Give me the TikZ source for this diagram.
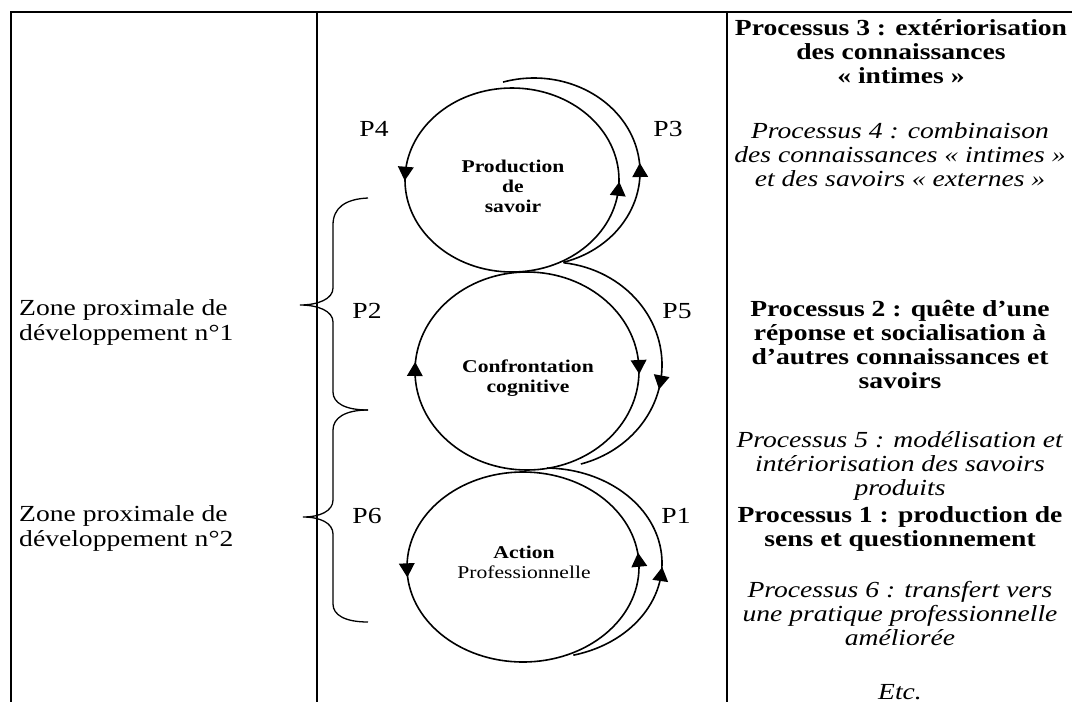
\documentclass[tikz,border=0pt]{standalone}
\usepackage{fontspec}
\setmainfont{Liberation Serif}[FakeStretch=1.2]
\usetikzlibrary{decorations.markings}

\tikzset{
  frame/.style={line width=2pt},
  loopline/.style={line width=1.6pt},
  bracket/.style={line width=1.3pt},
  tipat/.style={postaction={decorate,decoration={markings,
      mark=at position #1 with {\fill[line width=0.4pt] (7pt,0pt) -- (-7pt,8pt) -- (-7pt,-8pt) -- cycle;}}}},
  sidetext/.style={anchor=west,align=left,inner sep=0pt,
      font=\fontsize{23}{25}\selectfont},
  proc/.style={align=center,inner sep=0pt,font=\fontsize{23}{24}\selectfont},
  plabel/.style={inner sep=0pt,font=\fontsize{23}{25}\selectfont},
  hub/.style={align=center,inner sep=0pt,font=\fontsize{18}{20}\selectfont},
}

\begin{document}
\begin{tikzpicture}[x=1pt,y=-1pt]
\useasboundingbox (0,0) rectangle (1072,702);
\fill[white] (0,0) rectangle (1072,702);

% table frame
\coordinate (tl) at (11,12);
\coordinate (tr) at (1072,12);
\coordinate (m1t) at (317,12);
\coordinate (m2t) at (727,12);
\coordinate (bl) at (11,702);
\coordinate (m1b) at (317,702);
\coordinate (m2b) at (727,702);
\draw[frame] (bl) -- (tl) -- (tr);
\draw[frame] (m1t) -- (m1b);
\draw[frame] (m2t) -- (m2b);

% centres of the three cycles and of their outer loops
\coordinate (c1) at (512,180);
\coordinate (c2) at (527,371);
\coordinate (c3) at (523,567);
\coordinate (o1) at (534,172);
\coordinate (o2) at (550,365);
\coordinate (o3) at (545,563);

% cycle labels
\node[hub] (prod) at (513,186) {\textbf{Production}\\\textbf{de}\\\textbf{savoir}};
\node[hub] (conf) at (528,378) {\textbf{Confrontation}\\\textbf{cognitive}};
\node[hub] (act) at (524,562) {\textbf{Action}\\Professionnelle};

% top cycle: counter-clockwise
\draw[loopline,tipat=0.24,tipat=0.736]
  (c1) ++(0,-92) arc[start angle=270,end angle=-90,x radius=107,y radius=92];
\draw[loopline,tipat=0.41]
  (o1) ++(74:106 and 94) arc[start angle=74,end angle=-107,x radius=106,y radius=94];

% middle cycle: clockwise
\draw[loopline,tipat=0.244,tipat=0.753]
  (c2) ++(0,-99) arc[start angle=-90,end angle=270,x radius=112,y radius=99];
\draw[loopline,tipat=0.59]
  (o2) ++(-83:112 and 103) arc[start angle=-83,end angle=74,x radius=112,y radius=103];

% bottom cycle: counter-clockwise
\draw[loopline,tipat=0.255,tipat=0.761]
  (c3) ++(0,-95) arc[start angle=270,end angle=-90,x radius=116,y radius=95];
\draw[loopline,tipat=0.42]
  (o3) ++(76:117 and 95) arc[start angle=76,end angle=-89,x radius=117,y radius=95];

% process labels
\node[plabel] (p4) at (374,129) {P4};
\node[plabel] (p3) at (668,129) {P3};
\node[plabel] (p2) at (367,311) {P2};
\node[plabel] (p5) at (677,311) {P5};
\node[plabel] (p6) at (367,516) {P6};
\node[plabel] (p1) at (676,516) {P1};

% braces
\coordinate (b1top) at (368,198);
\coordinate (b1tip) at (300,305);
\coordinate (bmid) at (368,410);
\coordinate (b2tip) at (303,517);
\coordinate (b2bot) at (368,622);
\draw[bracket] (b1top) .. controls (345,199) and (333,208) .. (333,225)
  -- (333,288) .. controls (333,299) and (318,305) .. (b1tip)
  .. controls (318,305) and (333,311) .. (333,322)
  -- (333,392) .. controls (333,403) and (345,410) .. (bmid);
\draw[bracket] (bmid) .. controls (345,410) and (333,418) .. (333,430)
  -- (333,500) .. controls (333,511) and (320,517) .. (b2tip)
  .. controls (320,517) and (333,523) .. (333,534)
  -- (333,604) .. controls (333,615) and (345,622) .. (b2bot);

% zones
\node[sidetext] (z1) at (19,322) {Zone proximale de\\développement n°1};
\node[sidetext] (z2) at (19,528) {Zone proximale de\\développement n°2};

% process descriptions
\node[proc] (t3) at (901,52) {\textbf{Processus 3 : extériorisation}\\\textbf{des connaissances}\\\textbf{« intimes »}};
\node[proc] (t4) at (900,155) {\textit{Processus 4 : combinaison}\\\textit{des connaissances « intimes »}\\\textit{et des savoirs « externes »}};
\node[proc] (t2) at (900,344) {\textbf{Processus 2 : quête d’une}\\\textbf{réponse et socialisation à}\\\textbf{d’autres connaissances et}\\\textbf{savoirs}};
\node[proc] (t5) at (900,466) {\textit{Processus 5 : modélisation et}\\\textit{intériorisation des savoirs}\\\textit{produits}};
\node[proc] (t1) at (900,529) {\textbf{Processus 1 : production de}\\\textbf{sens et questionnement}};
\node[proc] (t6) at (900,614) {\textit{Processus 6 : transfert vers}\\\textit{une pratique professionnelle}\\\textit{améliorée}};
\node[proc,anchor=base] (etc) at (900,699) {\textit{Etc.}};
\end{tikzpicture}
\end{document}
